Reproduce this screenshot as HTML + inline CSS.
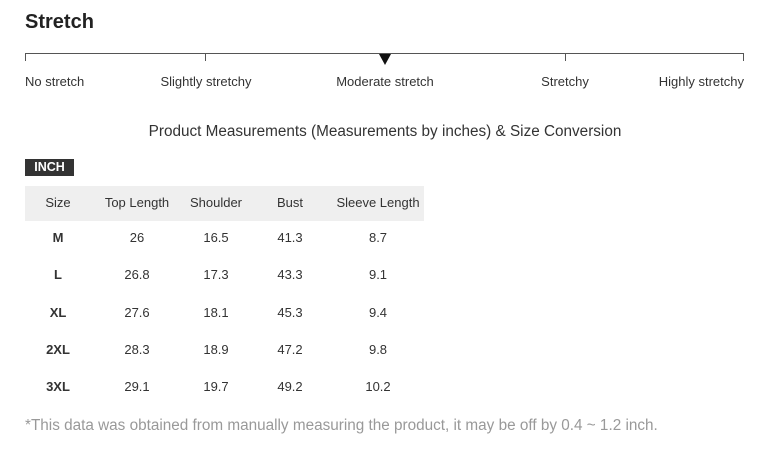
<!DOCTYPE html>
<html><head><style>
body{margin:0;width:768px;height:462px;background:#fff;font-family:"Liberation Sans",sans-serif;color:#333;position:relative;overflow:hidden}
.a{position:absolute;white-space:nowrap}
.c{transform:translateX(-50%)}
</style></head><body>
<div class="a" style="left:25px;top:11px;font-size:20px;font-weight:bold;color:#222">Stretch</div>
<div class="a" style="left:25px;top:53px;width:719px;height:1px;background:#555"></div>
<div class="a" style="left:25px;top:53px;width:1px;height:8px;background:#555"></div>
<div class="a" style="left:205px;top:53px;width:1px;height:8px;background:#555"></div>
<div class="a" style="left:565px;top:53px;width:1px;height:8px;background:#555"></div>
<div class="a" style="left:743px;top:53px;width:1px;height:8px;background:#555"></div>
<div class="a" style="left:379px;top:54px;width:0;height:0;border-left:6px solid transparent;border-right:6px solid transparent;border-top:11px solid #111"></div>
<div class="a" style="left:25px;top:74px;font-size:13px">No stretch</div>
<div class="a c" style="left:206px;top:74px;font-size:13px">Slightly stretchy</div>
<div class="a c" style="left:385px;top:74px;font-size:13px">Moderate stretch</div>
<div class="a c" style="left:565px;top:74px;font-size:13px">Stretchy</div>
<div class="a" style="right:24px;top:74px;font-size:13px">Highly stretchy</div>
<div class="a c" style="left:385px;top:123px;font-size:15.3px">Product Measurements (Measurements by inches) &amp; Size Conversion</div>
<div class="a" style="left:25px;top:159px;width:49px;height:17px;background:#333;color:#fff;font-size:12.5px;font-weight:bold;line-height:17px;text-align:center">INCH</div>
<div class="a" style="left:25px;top:186px;width:399px;height:35px;background:#efefef"></div>
<div id="t"></div>
<script>
var cols=[58,137,216,290,378];
var rows=[["Size","Top Length","Shoulder","Bust","Sleeve Length"],["M","26","16.5","41.3","8.7"],["L","26.8","17.3","43.3","9.1"],["XL","27.6","18.1","45.3","9.4"],["2XL","28.3","18.9","47.2","9.8"],["3XL","29.1","19.7","49.2","10.2"]];
var ys=[203,238,275,313,350,387],h="";
rows.forEach(function(r,i){r.forEach(function(v,j){h+='<div class="a c" style="left:'+cols[j]+'px;top:'+(ys[i]-8)+'px;font-size:13px;'+(i>0&&j==0?'font-weight:bold;':'')+'">'+v+'</div>';});});
document.getElementById('t').innerHTML=h;
</script>
<div class="a" style="left:25px;top:417px;font-size:15.3px;color:#999">*This data was obtained from manually measuring the product, it may be off by 0.4 ~ 1.2 inch.</div>
</body></html>
